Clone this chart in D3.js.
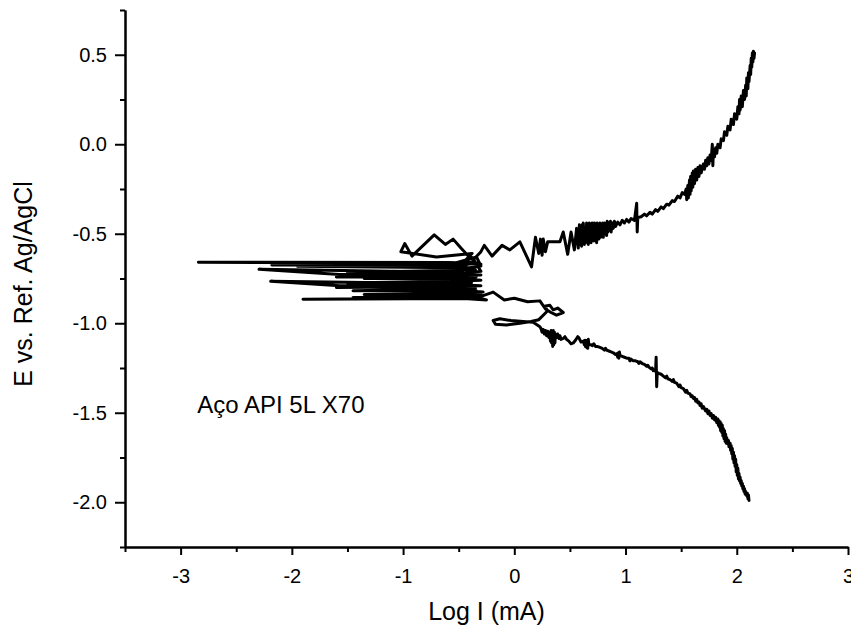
<!DOCTYPE html>
<html>
<head>
<meta charset="utf-8">
<script src="https://cdn.jsdelivr.net/npm/d3@7"></script>
<style>
  body { margin: 0; background: #fff; overflow: hidden; }
  svg { display: block; }
  .chart text { font-family: 'Liberation Sans', Arial, sans-serif; fill: #000; }
</style>
</head>
<body>
<div class="chart"></div>
<script>
// Log I (mA) vs E (V vs Ag/AgCl), in scan order
const cathodicBranch = [
  [2.11,-1.99],[2.105,-1.96],[2.10,-1.98],[2.095,-1.95],[2.09,-1.965],[2.08,-1.94],[2.075,-1.955],[2.07,-1.925],
  [2.065,-1.94],[2.06,-1.91],[2.055,-1.925],[2.05,-1.895],[2.045,-1.91],[2.04,-1.88],[2.035,-1.895],[2.03,-1.86],
  [2.025,-1.88],[2.02,-1.84],[2.015,-1.87],[2.01,-1.81],[2.005,-1.85],[2.0,-1.79],[1.995,-1.83],[1.99,-1.76],
  [1.985,-1.80],[1.98,-1.74],[1.975,-1.78],[1.97,-1.72],[1.965,-1.76],[1.96,-1.70],[1.955,-1.73],[1.95,-1.685],
  [1.945,-1.71],[1.94,-1.67],[1.93,-1.69],[1.925,-1.655],[1.92,-1.675],[1.91,-1.64],[1.905,-1.67],[1.90,-1.62],
  [1.895,-1.66],[1.89,-1.60],[1.885,-1.645],[1.88,-1.59],[1.875,-1.63],[1.87,-1.57],[1.865,-1.61],[1.86,-1.56],
  [1.855,-1.60],[1.85,-1.55],[1.845,-1.58],[1.84,-1.545],[1.835,-1.57],[1.83,-1.535],[1.82,-1.555],[1.81,-1.525],
  [1.80,-1.54],[1.79,-1.515],[1.78,-1.53],[1.77,-1.505],[1.76,-1.515],[1.75,-1.49],[1.74,-1.505],[1.73,-1.48],
  [1.72,-1.49],[1.70,-1.465],[1.69,-1.475],[1.68,-1.45],[1.67,-1.46],[1.66,-1.44],[1.65,-1.445],[1.64,-1.425],
  [1.63,-1.435],[1.62,-1.415],[1.61,-1.42],[1.60,-1.405],[1.59,-1.41],[1.58,-1.395],[1.56,-1.39],[1.55,-1.375],
  [1.54,-1.385],[1.52,-1.365],[1.50,-1.36],[1.49,-1.345],[1.48,-1.355],[1.46,-1.335],[1.44,-1.33],[1.43,-1.315],
  [1.42,-1.325],[1.40,-1.315],[1.38,-1.31],[1.37,-1.295],[1.36,-1.305],[1.34,-1.295],[1.32,-1.285],[1.30,-1.28],
  [1.285,-1.275],[1.28,-1.355],[1.275,-1.19],[1.27,-1.27],[1.26,-1.26],[1.25,-1.265],[1.24,-1.25],[1.23,-1.255],
  [1.21,-1.245],[1.20,-1.235],[1.19,-1.24],[1.17,-1.23],[1.15,-1.225],[1.13,-1.215],[1.12,-1.225],[1.11,-1.215],
  [1.09,-1.21],[1.07,-1.21],[1.05,-1.2],[1.04,-1.21],[1.03,-1.195],[1.01,-1.195],[0.99,-1.19],[0.97,-1.185],
  [0.95,-1.18],[0.945,-1.16],[0.94,-1.195],[0.935,-1.165],[0.93,-1.19],[0.92,-1.17],[0.91,-1.175],[0.89,-1.165],
  [0.87,-1.16],[0.85,-1.155],[0.83,-1.15],[0.82,-1.14],[0.81,-1.15],[0.79,-1.14],[0.77,-1.135],[0.75,-1.13],
  [0.73,-1.13],[0.715,-1.115],[0.70,-1.125],[0.69,-1.12],[0.67,-1.12],[0.665,-1.09],[0.66,-1.14],[0.655,-1.095],
  [0.65,-1.135],[0.645,-1.10],[0.64,-1.13],[0.635,-1.095],[0.63,-1.12],[0.62,-1.10],[0.60,-1.105],[0.58,-1.08],
  [0.57,-1.075],[0.55,-1.095],[0.53,-1.11],[0.51,-1.115],[0.49,-1.1],[0.47,-1.09],[0.455,-1.075],[0.44,-1.085],
  [0.42,-1.09],[0.41,-1.07],[0.40,-1.085],[0.39,-1.06],[0.38,-1.08],[0.37,-1.06],[0.365,-1.11],[0.36,-1.05],
  [0.355,-1.12],[0.35,-1.04],[0.345,-1.13],[0.34,-1.05],[0.335,-1.11],[0.33,-1.04],[0.325,-1.10],[0.32,-1.05],
  [0.31,-1.08],[0.30,-1.045],[0.29,-1.07],[0.28,-1.04],[0.27,-1.06],[0.26,-1.035],[0.25,-1.05],[0.24,-1.03],[0.23,-1.02]
];

const loopRegion = [
  [0.17,-0.995],[0.08,-0.99],[-0.03,-0.985],[-0.13,-0.975],[-0.19,-0.985],[-0.17,-1.005],[-0.07,-1.01],
  [0.05,-1.0],[0.15,-0.99],[0.22,-0.98],[0.26,-0.955],[0.3,-0.93],[0.27,-0.905],[0.32,-0.9],[0.35,-0.925],
  [0.39,-0.915],[0.44,-0.94],[0.38,-0.955],[0.33,-0.94],[0.28,-0.92],[0.23,-0.875],[0.12,-0.88],[0.0,-0.86],
  [-0.09,-0.87],[-0.19,-0.826],[-0.3,-0.85],[-0.4,-0.845]
];

const corrosionRegion = [
  [-0.25,-0.87],[-0.45,-0.862],[-1.90,-0.866],[-0.6,-0.86],[-0.35,-0.855],[-0.5,-0.85],[-1.45,-0.856],
  [-0.7,-0.848],[-0.3,-0.84],[-0.38,-0.80],[-0.45,-0.835],[-1.35,-0.84],[-0.55,-0.83],[-0.28,-0.825],
  [-0.5,-0.815],[-1.45,-0.818],[-0.65,-0.81],[-0.35,-0.805],[-0.42,-0.76],[-0.45,-0.795],[-1.6,-0.80],
  [-0.75,-0.795],[-0.3,-0.79],[-0.5,-0.785],[-1.57,-0.79],[-2.19,-0.766],[-1.0,-0.775],[-0.4,-0.78],
  [-0.33,-0.73],[-0.55,-0.77],[-1.5,-0.775],[-0.6,-0.765],[-0.3,-0.76],[-0.45,-0.752],[-1.35,-0.75],
  [-0.5,-0.745],[-0.35,-0.74],[-0.4,-0.69],[-0.6,-0.738],[-1.6,-0.742],[-0.7,-0.735],[-0.3,-0.73],
  [-0.5,-0.728],[-1.57,-0.727],[-2.295,-0.699],[-1.1,-0.71],[-0.45,-0.72],[-0.3,-0.71],[-0.36,-0.65],
  [-0.55,-0.712],[-1.5,-0.715],[-0.6,-0.705],[-0.35,-0.70],[-0.5,-0.69],[-1.95,-0.682],[-0.8,-0.685],
  [-0.4,-0.69],[-0.3,-0.68],[-0.34,-0.63],[-0.6,-0.676],[-2.18,-0.675],[-0.9,-0.67],[-0.45,-0.672],
  [-0.32,-0.665],[-0.6,-0.66],[-2.84,-0.659],[-1.5,-0.662],[-0.5,-0.665],[-0.38,-0.66],[-0.3,-0.67],
  [-0.45,-0.655],[-0.38,-0.61],[-0.7,-0.63],[-1.02,-0.60],[-0.985,-0.555],[-0.92,-0.625],[-0.72,-0.506],
  [-0.62,-0.56],[-0.55,-0.53],[-0.48,-0.58],[-0.42,-0.62],[-0.36,-0.64],[-0.3,-0.60],[-0.27,-0.565],
  [-0.20,-0.625],[-0.11,-0.565],[-0.04,-0.59],[0.05,-0.545],[0.155,-0.685],[0.19,-0.52]
];

const anodicBranch = [
  [0.22,-0.61],[0.235,-0.53],[0.25,-0.62],[0.26,-0.53],[0.28,-0.60],[0.30,-0.545],[0.35,-0.545],[0.41,-0.545],
  [0.44,-0.49],[0.48,-0.615],[0.51,-0.49],[0.54,-0.59],[0.56,-0.47],[0.575,-0.58],[0.585,-0.45],[0.59,-0.56],
  [0.60,-0.46],[0.605,-0.57],[0.61,-0.45],[0.615,-0.53],[0.62,-0.44],[0.63,-0.56],[0.635,-0.47],[0.64,-0.55],
  [0.65,-0.44],[0.655,-0.54],[0.66,-0.45],[0.665,-0.56],[0.675,-0.44],[0.68,-0.53],[0.685,-0.46],[0.69,-0.55],
  [0.70,-0.44],[0.705,-0.52],[0.71,-0.45],[0.715,-0.54],[0.72,-0.44],[0.73,-0.53],[0.735,-0.45],[0.74,-0.55],
  [0.745,-0.44],[0.75,-0.51],[0.755,-0.45],[0.76,-0.53],[0.77,-0.44],[0.775,-0.52],[0.78,-0.45],[0.79,-0.50],
  [0.795,-0.44],[0.80,-0.52],[0.81,-0.44],[0.815,-0.49],[0.82,-0.45],[0.83,-0.51],[0.835,-0.43],[0.84,-0.49],
  [0.85,-0.44],[0.86,-0.48],[0.865,-0.43],[0.87,-0.49],[0.88,-0.44],[0.89,-0.47],[0.90,-0.43],[0.91,-0.46],
  [0.93,-0.435],[0.95,-0.45],[0.97,-0.425],[0.99,-0.44],[1.01,-0.42],[1.03,-0.435],[1.05,-0.415],[1.08,-0.425],
  [1.10,-0.33],[1.105,-0.49],[1.11,-0.41],[1.14,-0.405],[1.17,-0.39],[1.19,-0.40],[1.22,-0.38],[1.24,-0.39],
  [1.27,-0.365],[1.29,-0.375],[1.32,-0.35],[1.34,-0.36],[1.37,-0.335],[1.39,-0.34],[1.42,-0.315],[1.44,-0.32],
  [1.47,-0.29],[1.49,-0.30],[1.51,-0.27],[1.53,-0.28],[1.545,-0.25],[1.55,-0.31],[1.56,-0.23],[1.565,-0.30],
  [1.575,-0.20],[1.58,-0.28],[1.585,-0.18],[1.59,-0.26],[1.60,-0.16],[1.605,-0.24],[1.61,-0.15],[1.62,-0.22],
  [1.63,-0.14],[1.64,-0.20],[1.65,-0.13],[1.66,-0.18],[1.67,-0.12],[1.68,-0.16],[1.70,-0.11],[1.71,-0.14],
  [1.72,-0.09],[1.73,-0.12],[1.74,-0.075],[1.75,-0.11],[1.76,-0.06],[1.77,-0.09],[1.78,0.0],[1.785,-0.12],
  [1.79,-0.03],[1.80,-0.07],[1.81,-0.02],[1.82,-0.05],[1.83,0.0],[1.85,-0.02],[1.86,0.03],[1.88,0.02],
  [1.89,0.07],[1.91,0.05],[1.92,0.10],[1.94,0.08],[1.95,0.14],[1.97,0.11],[1.98,0.17],[2.0,0.14],
  [2.01,0.21],[2.02,0.17],[2.025,0.25],[2.03,0.19],[2.04,0.27],[2.05,0.21],[2.06,0.30],[2.07,0.25],
  [2.08,0.33],[2.085,0.27],[2.09,0.37],[2.10,0.31],[2.105,0.40],[2.11,0.35],[2.12,0.44],[2.125,0.39],
  [2.13,0.48],[2.135,0.43],[2.14,0.51],[2.145,0.46],[2.15,0.52],[2.155,0.48],[2.16,0.51]
];

const xDomain = [-3.5, 3];
const yDomain = [-2.25, 0.75];
const xMajorTicks = [-3, -2, -1, 0, 1, 2, 3];
const xMinorTicks = [-3.5, -2.5, -1.5, -0.5, 0.5, 1.5, 2.5];
const yMajorTicks = [-2.0, -1.5, -1.0, -0.5, 0.0, 0.5];
const yMinorTicks = [-2.25, -1.75, -1.25, -0.75, -0.25, 0.25, 0.75];
const xTitle = 'Log I (mA)';
const yTitle = 'E vs. Ref. Ag/AgCl';
const sampleLabel = 'Aço API 5L X70';
const labelPos = [-2.85, -1.5];

const width = 851,
  height = 630,
  margin = { top: 10, right: 3, bottom: 83, left: 125 },
  innerWidth = width - margin.left - margin.right,
  innerHeight = height - margin.top - margin.bottom;

const svg = d3.select('.chart')
  .append('svg')
  .attr('width', width)
  .attr('height', height);

const g = svg.append('g')
  .attr('transform', `translate(${margin.left}, ${margin.top})`);

const x = d3.scaleLinear().domain(xDomain).range([0, innerWidth]);
const y = d3.scaleLinear().domain(yDomain).range([innerHeight, 0]);

// plain hyphen for negatives, like the original
const fmtX = d => String(d);
const fmtY = d => d.toFixed(1);

const styleAxis = sel => {
  sel.select('.domain').attr('stroke', '#000').attr('stroke-width', 2);
  sel.selectAll('.tick line').attr('stroke', '#000').attr('stroke-width', 2);
};

// minor ticks
g.append('g')
  .attr('transform', `translate(0, ${innerHeight})`)
  .call(d3.axisBottom(x).tickValues(xMinorTicks).tickSize(5).tickSizeOuter(0))
  .call(styleAxis)
  .call(a => a.selectAll('text').remove());

g.append('g')
  .call(d3.axisLeft(y).tickValues(yMinorTicks).tickSize(5).tickSizeOuter(0))
  .call(styleAxis)
  .call(a => a.selectAll('text').remove());

// major ticks with labels
const xAxis = g.append('g')
  .attr('transform', `translate(0, ${innerHeight})`)
  .call(d3.axisBottom(x).tickValues(xMajorTicks).tickSize(8).tickSizeOuter(0).tickFormat(fmtX))
  .call(styleAxis);

xAxis.selectAll('.tick text')
  .attr('y', 22)
  .attr('font-size', 20);

const yAxis = g.append('g')
  .call(d3.axisLeft(y).tickValues(yMajorTicks).tickSize(10).tickSizeOuter(0).tickFormat(fmtY))
  .call(styleAxis);

yAxis.selectAll('.tick text')
  .attr('x', -18)
  .attr('font-size', 20);

svg.selectAll('.tick text').attr('font-family', "'Liberation Sans', Arial, sans-serif").attr('fill', '#000');

// the polarization curve
const scan = [...cathodicBranch, ...loopRegion, ...corrosionRegion, ...anodicBranch];

const line = d3.line()
  .x(d => x(d[0]))
  .y(d => y(d[1]));

g.append('path')
  .datum(scan)
  .attr('fill', 'none')
  .attr('stroke', '#000')
  .attr('stroke-width', 3)
  .attr('stroke-linejoin', 'round')
  .attr('stroke-linecap', 'round')
  .attr('d', line);

// titles
svg.append('text')
  .attr('x', margin.left + innerWidth / 2)
  .attr('y', 620)
  .attr('text-anchor', 'middle')
  .attr('font-size', 25)
  .text(xTitle);

svg.append('text')
  .attr('transform', `translate(32, 284) rotate(-90)`)
  .attr('text-anchor', 'middle')
  .attr('font-size', 25)
  .text(yTitle);

g.append('text')
  .attr('x', x(labelPos[0]))
  .attr('y', y(labelPos[1]))
  .attr('font-size', 24)
  .text(sampleLabel);
</script>
</body>
</html>
